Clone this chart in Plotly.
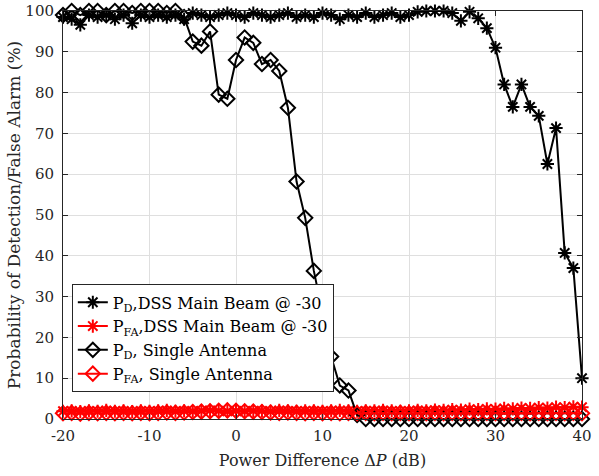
import plotly.graph_objects as go

# Power difference (dB)
delta_p = list(range(-20, 41))

# P_D, DSS main beam @ -30
pd_dss = [
    98.5, 98.0, 96.6, 99.0, 98.5, 99.0, 98.0, 99.0, 97.0, 99.0,
    98.5, 99.0, 98.5, 99.0, 98.0, 99.5, 99.0, 98.5, 99.0, 99.5,
    99.0, 98.5, 99.5, 99.0, 98.5, 99.0, 99.5, 98.5, 99.0, 98.5,
    99.5, 99.0, 98.0, 99.0, 98.5, 99.5, 98.5, 99.0, 99.5, 98.5,
    99.0, 99.8, 100.0, 100.0, 100.0, 99.5, 97.6, 99.8, 98.2, 95.8,
    91.0, 82.0, 76.5, 82.0, 76.5, 74.3, 62.5, 71.3, 40.7, 37.0,
    10.0,
]

# P_FA, DSS main beam @ -30
pfa_dss = [
    1.9, 2.0, 1.8, 2.0, 1.9, 2.1, 1.9, 2.0, 1.8, 2.0,
    1.9, 2.0, 2.1, 1.9, 2.0, 1.9, 2.0, 2.1, 2.0, 1.9,
    2.0, 1.9, 2.0, 2.0, 1.9, 2.1, 2.0, 1.9, 2.0, 2.0,
    1.9, 2.0, 2.1, 2.0, 1.9, 2.0, 2.0, 2.1, 2.0, 1.9,
    2.0, 2.1, 2.0, 2.2, 2.1, 2.3, 2.2, 2.4, 2.3, 2.5,
    2.4, 2.6, 2.5, 2.7, 2.6, 2.8, 2.7, 2.9, 2.8, 3.0,
    2.9,
]

# P_D, single antenna
pd_single = [
    99.0, 100.0, 99.0, 100.0, 100.0, 99.0, 100.0, 100.0, 99.5, 100.0,
    100.0, 100.0, 99.5, 100.0, 98.5, 92.5, 91.5, 95.0, 79.5, 78.5,
    88.0, 93.5, 92.2, 87.0, 88.0, 85.3, 76.3, 58.2, 49.3, 36.3,
    26.0, 15.3, 8.2, 7.0, 1.0, 0.0, 0.0, 0.0, 0.0, 0.0,
    0.0, 0.0, 0.0, 0.0, 0.0, 0.0, 0.0, 0.0, 0.0, 0.0,
    0.0, 0.0, 0.0, 0.0, 0.0, 0.0, 0.0, 0.0, 0.0, 0.0,
    0.0,
]

# P_FA, single antenna
pfa_single = [
    1.4, 1.5, 1.3, 1.5, 1.4, 1.5, 1.4, 1.5, 1.4, 1.5,
    1.4, 1.5, 1.6, 1.5, 1.6, 1.7, 1.8, 1.9, 2.0, 2.1,
    2.0, 1.9, 1.8, 1.7, 1.6, 1.5, 1.6, 1.5, 1.4, 1.5,
    1.4, 1.5, 1.4, 1.5, 1.4, 1.5, 1.4, 1.5, 1.4, 1.5,
    1.4, 1.5, 1.4, 1.5, 1.4, 1.5, 1.4, 1.5, 1.4, 1.5,
    1.4, 1.5, 1.4, 1.5, 1.4, 1.5, 1.4, 1.5, 1.4, 1.5,
    1.4,
]

x_ticks = [-20, -10, 0, 10, 20, 30, 40]
x_tick_labels = ["-20", "-10", "0", "10", "20", "30", "40"]
y_ticks = list(range(0, 101, 10))

series = [
    ("P<sub>D</sub>,DSS Main Beam @ -30", pd_dss, "black", "asterisk-open"),
    ("P<sub>FA</sub>,DSS Main Beam @ -30", pfa_dss, "red", "asterisk-open"),
    ("P<sub>D</sub>, Single Antenna", pd_single, "black", "diamond-open"),
    ("P<sub>FA</sub>, Single Antenna", pfa_single, "red", "diamond-open"),
]

fig = go.Figure()
for name, values, color, symbol in series:
    fig.add_trace(
        go.Scatter(
            x=delta_p,
            y=values,
            mode="lines+markers",
            name=name,
            line={"color": color, "width": 2},
            marker={
                "symbol": symbol,
                "size": 11,
                "color": color,
                "line": {"color": color, "width": 2},
            },
            cliponaxis=False,
        )
    )

serif = "DejaVu Serif"
axis_common = dict(
    showgrid=True,
    gridcolor="#dfdfdf",
    gridwidth=1,
    showline=True,
    linecolor="#262626",
    linewidth=1,
    mirror="ticks",
    ticks="inside",
    ticklen=5,
    tickcolor="#262626",
    zeroline=False,
    automargin=False,
    tickfont={"family": serif, "size": 15, "color": "#262626"},
)

fig.update_xaxes(
    range=[-20, 40],
    tickvals=x_ticks,
    ticktext=x_tick_labels,
    ticklabelstandoff=3,
    title={"text": "Power Difference Δ<i>P</i> (dB)",
           "font": {"family": serif, "size": 16, "color": "#262626"}, "standoff": 10},
    **axis_common,
)
fig.update_yaxes(
    range=[0, 100],
    tickvals=y_ticks,
    ticklabelstandoff=5,
    title={"text": "Probability of Detection/False Alarm (%)",
           "font": {"family": serif, "size": 17, "color": "#262626"}, "standoff": 0},
    **axis_common,
)

fig.update_layout(
    width=599,
    height=476,
    margin={"l": 63, "r": 17, "t": 11, "b": 57},
    paper_bgcolor="white",
    plot_bgcolor="white",
    font={"family": serif, "color": "black"},
    legend={
        "x": 0.017,
        "y": 0.33,
        "xanchor": "left",
        "yanchor": "top",
        "bgcolor": "white",
        "bordercolor": "#262626",
        "borderwidth": 1,
        "font": {"family": serif, "size": 16, "color": "black"},
        "tracegroupgap": 0,
    },
)

# drop the default page margin so the figure sits at the window corner
fig.write_html(
    "out.html",
    config={"displayModeBar": False},
    post_script="document.body.style.margin = '0';",
)
